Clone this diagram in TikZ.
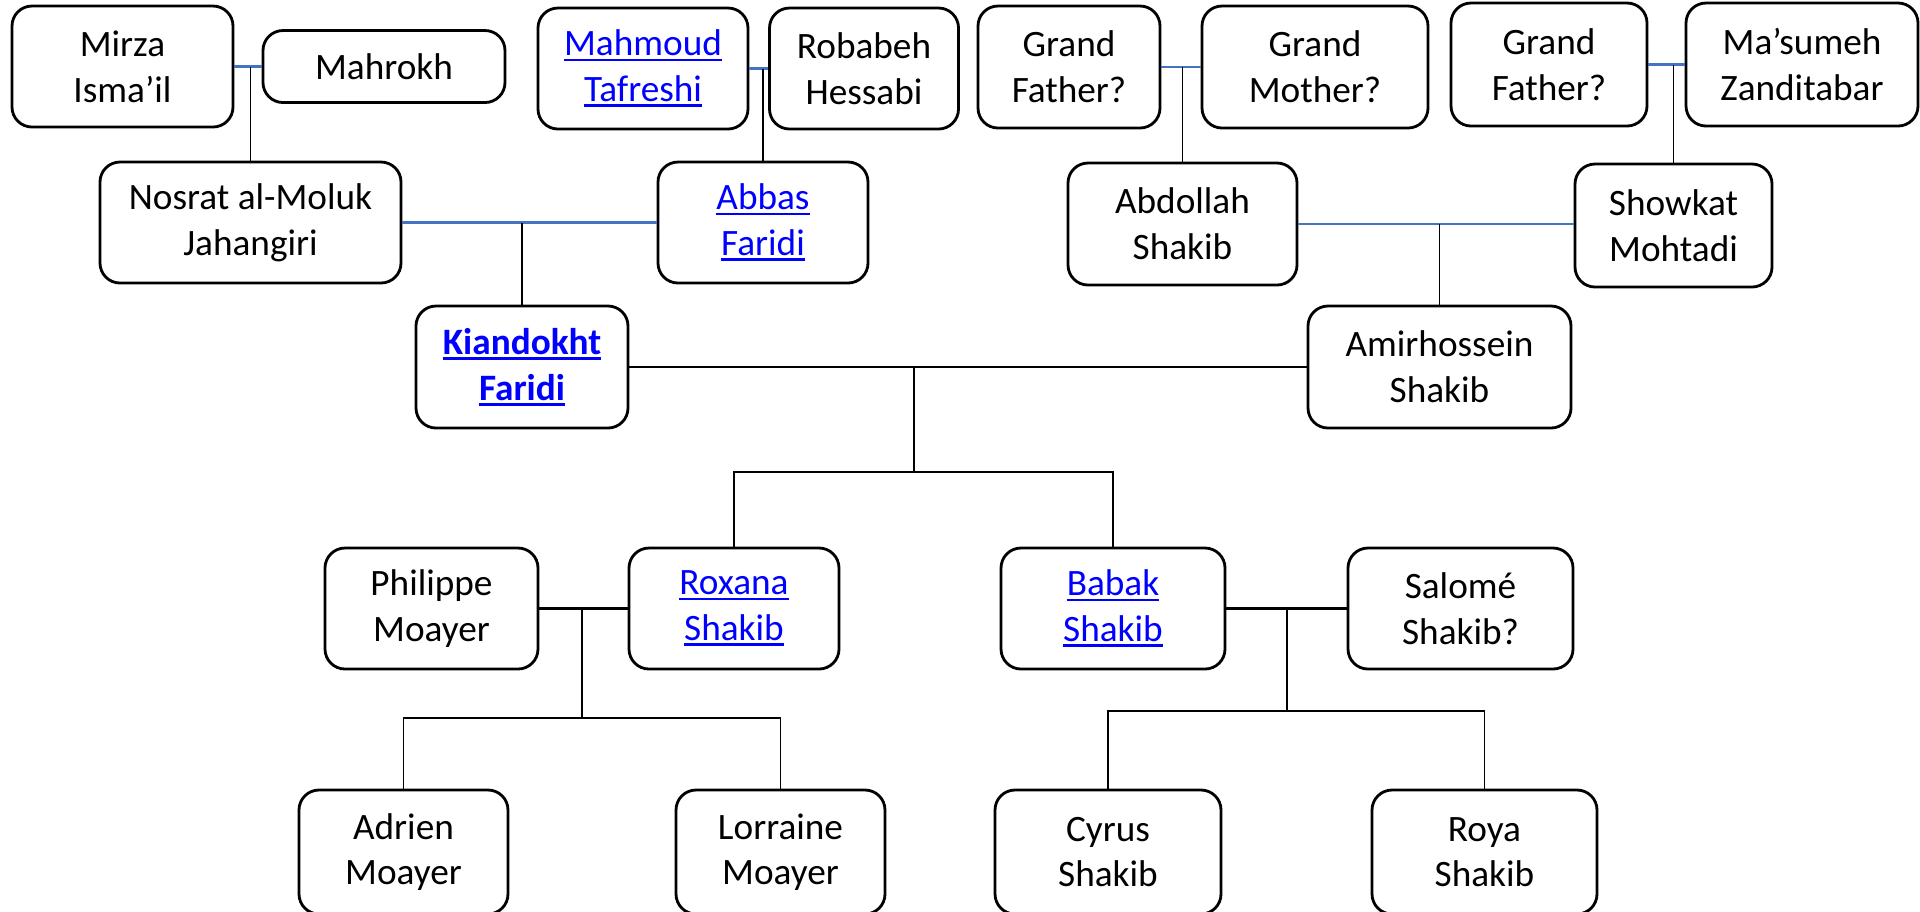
\documentclass[tikz,border=0pt]{standalone}
\usepackage{fontspec}
\setmainfont{Carlito}
\newsavebox{\lnkbox}
\newcommand{\lnk}[1]{\sbox{\lnkbox}{#1}\rlap{\rule[-1.6pt]{\wd\lnkbox}{0.75pt}}\usebox{\lnkbox}}
\definecolor{spouseblue}{RGB}{68,114,196}
\definecolor{linkblue}{RGB}{0,0,255}

\begin{document}
\begin{tikzpicture}[person/.style={draw, rounded corners=0.2cm, line width=0.8pt, align=center, minimum height=1.21cm, inner sep=2pt, font=\fontsize{10.6}{13}\selectfont},
    link/.style={person, text=linkblue},
    spouse/.style={draw=spouseblue, line width=0.7pt},
    couple/.style={line width=0.8pt},
    child/.style={line width=0.5pt}]

    \useasboundingbox (0,0) rectangle (19.2,-9.11);

    % great-grandparents
    \node[person, minimum width=2.21cm] (mirza) at (1.225,-0.665) {Mirza\\Isma’il};
    \node[person, minimum width=2.42cm, minimum height=0.72cm] (mahrokh) at (3.84,-0.665) {Mahrokh};
    \node[link, minimum width=2.10cm] (mahmoud) at (6.43,-0.685) {\lnk{Mahmoud}\\\lnk{Tafreshi}};
    \node[person, minimum width=1.89cm] (robabeh) at (8.64,-0.685) {Robabeh\\Hessabi};
    \node[person, minimum width=1.82cm, minimum height=1.22cm] (gfa) at (10.69,-0.67) {Grand\\Father?};
    \node[person, minimum width=2.26cm, minimum height=1.22cm] (gma) at (13.15,-0.67) {Grand\\Mother?};
    \node[person, minimum width=1.96cm, minimum height=1.23cm] (gfb) at (15.49,-0.645) {Grand\\Father?};
    \node[person, minimum width=2.32cm, minimum height=1.23cm] (masumeh) at (18.02,-0.645) {Ma’sumeh\\Zanditabar};

    % grandparents
    \node[person, minimum width=3.01cm] (nosrat) at (2.505,-2.225) {Nosrat al-Moluk\\Jahangiri};
    \node[link, minimum width=2.10cm] (abbas) at (7.63,-2.225) {\lnk{Abbas}\\\lnk{Faridi}};
    \node[person, minimum width=2.29cm, minimum height=1.22cm] (abdollah) at (11.825,-2.24) {Abdollah\\Shakib};
    \node[person, minimum width=1.97cm, minimum height=1.23cm] (showkat) at (16.735,-2.255) {Showkat\\Mohtadi};

    % parents
    \node[link, minimum width=2.12cm, minimum height=1.22cm] (kiandokht) at (5.22,-3.67) {\textbf{\lnk{Kiandokht}}\\\textbf{\lnk{Faridi}}};
    \node[person, minimum width=2.63cm, minimum height=1.22cm] (amir) at (14.395,-3.67) {Amirhossein\\Shakib};

    % children and spouses
    \node[person, minimum width=2.13cm] (philippe) at (4.315,-6.085) {Philippe\\Moayer};
    \node[link, minimum width=2.10cm] (roxana) at (7.34,-6.085) {\lnk{Roxana}\\\lnk{Shakib}};
    \node[link, minimum width=2.24cm] (babak) at (11.13,-6.085) {\lnk{Babak}\\\lnk{Shakib}};
    \node[person, minimum width=2.25cm] (salome) at (14.605,-6.085) {Salomé\\Shakib?};

    % grandchildren
    \node[person, minimum width=2.09cm, minimum height=1.24cm] (adrien) at (4.035,-8.52) {Adrien\\Moayer};
    \node[person, minimum width=2.09cm, minimum height=1.24cm] (lorraine) at (7.805,-8.52) {Lorraine\\Moayer};
    \node[person, minimum width=2.26cm, minimum height=1.24cm] (cyrus) at (11.08,-8.52) {Cyrus\\Shakib};
    \node[person, minimum width=2.25cm, minimum height=1.24cm] (roya) at (14.845,-8.52) {Roya\\Shakib};

    % drop points
    \coordinate (kids1) at (9.14,-4.72);
    \coordinate (kids2) at (5.82,-7.18);
    \coordinate (kids3) at (12.87,-7.11);

    % marriages
    \draw[spouse] (mirza.east |- mahrokh.west) -- (mahrokh.west);
    \draw[spouse] (mahmoud.east) -- (robabeh.west);
    \draw[spouse] (gfa.east) -- (gma.west);
    \draw[spouse] (gfb.east) -- (masumeh.west);
    \draw[spouse] (nosrat.east) -- (abbas.west);
    \draw[spouse] (abdollah.east) -- (abdollah.east -| showkat.west);
    \draw[couple] (kiandokht.east) -- (amir.west);
    \draw[couple] (philippe.east) -- (roxana.west);
    \draw[couple] (babak.east) -- (salome.west);

    % descent
    \draw[child] (nosrat.north) -- (nosrat.north |- mahrokh.west);
    \draw[child] (abbas.north) -- (abbas.north |- mahmoud.east);
    \draw[child] (abdollah.north) -- (abdollah.north |- gfa.east);
    \draw[child] (showkat.north) -- (showkat.north |- gfb.east);
    \draw[child] (kiandokht.north) -- (kiandokht.north |- nosrat.east);
    \draw[child] (amir.north) -- (amir.north |- abdollah.east);
    \draw[child] (kids1 |- kiandokht.east) -- (kids1);
    \draw[child] (roxana.north) |- (kids1) -| (babak.north);
    \draw[child] (kids2 |- philippe.east) -- (kids2);
    \draw[child] (adrien.north) |- (kids2) -| (lorraine.north);
    \draw[child] (kids3 |- babak.east) -- (kids3);
    \draw[child] (cyrus.north) |- (kids3) -| (roya.north);
\end{tikzpicture}
\end{document}
